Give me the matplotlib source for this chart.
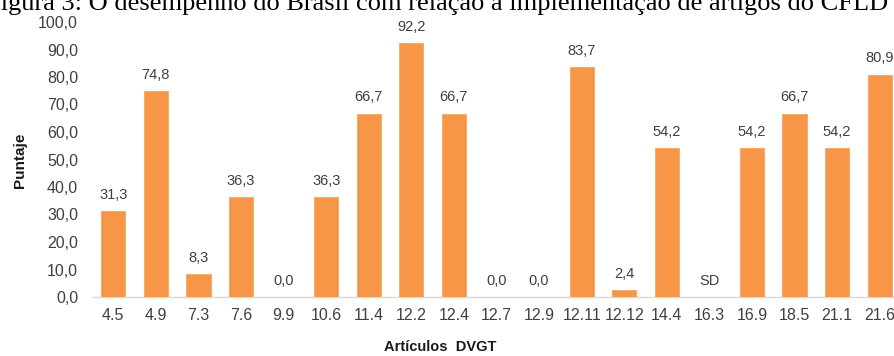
import matplotlib
matplotlib.use("Agg")
import matplotlib.pyplot as plt
import numpy as np

categories = ["4.5", "4.9", "7.3", "7.6", "9.9", "10.6", "11.4", "12.2", "12.4", "12.7",
              "12.9", "12.11", "12.12", "14.4", "16.3", "16.9", "18.5", "21.1", "21.6"]
values = [31.3, 74.8, 8.3, 36.3, 0.0, 36.3, 66.7, 92.2, 66.7, 0.0,
          0.0, 83.7, 2.4, 54.2, None, 54.2, 66.7, 54.2, 80.9]
missing_label = "SD"
yticks = [0, 10, 20, 30, 40, 50, 60, 70, 80, 90, 100]
title = "Figura 3: O desempenho do Brasil com relação à implementação de artigos do CFLD"
ylabel = "Puntaje"
xlabel = "Artículos  DVGT"

plt.rcParams['font.family'] = ['Liberation Sans', 'DejaVu Sans']

W, H = 895, 356
fig = plt.figure(figsize=(W / 100, H / 100), dpi=100)
left, right, bottom, top = 92, 901, 297, 22
ax = fig.add_axes([left / W, 1 - bottom / H, (right - left) / W, (bottom - top) / H])

x = np.arange(len(categories))
heights = [v if v is not None else 0 for v in values]
orange = "#F79646"
ax.bar(x, heights, width=0.57, color=orange, edgecolor="#F5A560", linewidth=0.6, zorder=3)

text_col = "#404040"
for xi, v in zip(x, values):
    lab = missing_label if v is None else f"{v:.1f}".replace(".", ",")
    ax.annotate(lab, (xi, v if v is not None else 0), xytext=(0, 11.7), textcoords="offset points",
                ha="center", va="center", fontsize=10.5, color=text_col)

ax.set_xlim(-0.5, len(categories) - 0.5)
ax.set_ylim(0, 100)
ax.set_yticks(yticks)
ax.set_yticklabels([f"{t:.1f}".replace(".", ",") for t in yticks])
ax.set_xticks(x)
ax.set_xticklabels(categories)
ax.tick_params(axis="both", length=0, labelsize=11.5, labelcolor=text_col)
ax.tick_params(axis="y", pad=10)
ax.tick_params(axis="x", pad=8)
for s in ["top", "right", "left"]:
    ax.spines[s].set_visible(False)
ax.spines["bottom"].set_color("#D9D9D9")
ax.spines["bottom"].set_linewidth(1.0)

fig.text(20 / W, 1 - 160 / H, ylabel, rotation=90, ha="center", va="center",
         fontsize=11, fontweight="bold", color="#1a1a1a")
fig.text(440 / W, 1 - 347 / H, xlabel, ha="center", va="center",
         fontsize=10.5, fontweight="bold", color="#1a1a1a")
fig.text(437 / W, 1 - 10 / H, title, ha="center", va="baseline",
         fontsize=19, family=["Liberation Serif", "DejaVu Serif"], color="black")

fig.savefig("out.png", dpi=100)
